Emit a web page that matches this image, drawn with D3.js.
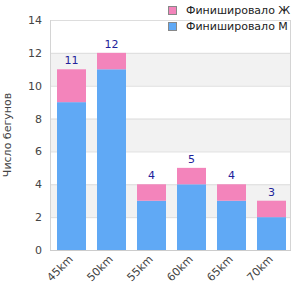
<!DOCTYPE html>
<html>
<head>
<meta charset="utf-8">
<script src="https://cdn.jsdelivr.net/npm/d3@7"></script>
<style>
  body { margin: 0; background: #fff; }
  text { font-family: "DejaVu Sans", sans-serif; }
</style>
</head>
<body>
<div id="chart"></div>
<script>
// Data
let categories = ['45km', '50km', '55km', '60km', '65km', '70km'];
let male = [9, 11, 3, 4, 3, 2];
let female = [2, 1, 1, 1, 1, 1];
let seriesNames = ['Финишировало Ж', 'Финишировало М'];
let yTicks = [0, 2, 4, 6, 8, 10, 12, 14];
let yTitle = 'Число бегунов';

let W = 300, H = 300;
let L = 50, R = 290, T = 20, B = 250; // plot box

let pink = '#f384bb';
let blue = '#60a9f5';

let svg = d3.select('#chart').append('svg')
		.attr('width', W)
		.attr('height', H);

let x = d3.scaleBand().domain(categories).range([L + 1.5, R + 1.5]).paddingInner(0.275).paddingOuter(0.1375);
let y = d3.scaleLinear().domain([0, 14]).range([B, T]);

// Alternating background bands
let bands = [[2, 4], [6, 8], [10, 12]];
svg.append('g').selectAll('rect')
		.data(bands)
		.enter()
		.append('rect')
		.attr('x', L)
		.attr('width', R - L)
		.attr('y', d => y(d[1]))
		.attr('height', d => y(d[0]) - y(d[1]))
		.attr('fill', '#f2f2f2');

// Grid lines
svg.append('g').selectAll('line')
		.data(yTicks)
		.enter()
		.append('line')
		.attr('x1', L)
		.attr('x2', R)
		.attr('y1', d => y(d) + 0.5)
		.attr('y2', d => y(d) + 0.5)
		.attr('stroke', '#dddddd');

// Side borders
svg.append('line').attr('x1', L + 0.5).attr('x2', L + 0.5).attr('y1', T).attr('y2', B + 1).attr('stroke', '#d4d4d4');
svg.append('line').attr('x1', R + 0.5).attr('x2', R + 0.5).attr('y1', T).attr('y2', B + 1).attr('stroke', '#d4d4d4');
svg.append('line').attr('x1', L).attr('x2', R + 1).attr('y1', B + 0.5).attr('y2', B + 0.5).attr('stroke', '#cccccc');

// Stacked bars
let rows = categories.map((c, i) => ({cat: c, m: male[i], f: female[i]}));
let bars = svg.append('g').selectAll('g')
		.data(rows)
		.enter()
		.append('g');

bars.append('rect')
		.attr('x', d => x(d.cat))
		.attr('width', x.bandwidth())
		.attr('y', d => y(d.m))
		.attr('height', d => y(0) - y(d.m))
		.attr('fill', blue);

bars.append('rect')
		.attr('x', d => x(d.cat))
		.attr('width', x.bandwidth())
		.attr('y', d => y(d.m + d.f))
		.attr('height', d => y(d.m) - y(d.m + d.f))
		.attr('fill', pink);

// Totals above bars
bars.append('text')
		.attr('x', d => x(d.cat) + x.bandwidth() / 2)
		.attr('y', d => y(d.m + d.f) - 5)
		.attr('text-anchor', 'middle')
		.attr('font-size', 11)
		.attr('fill', '#22229a')
		.text(d => d.m + d.f);

// Y axis labels
svg.append('g').selectAll('text')
		.data(yTicks)
		.enter()
		.append('text')
		.attr('x', 42)
		.attr('y', d => y(d) + 4)
		.attr('text-anchor', 'end')
		.attr('font-size', 11)
		.attr('fill', '#444')
		.text(d => d);

// X axis labels (rotated)
svg.append('g').selectAll('text')
		.data(categories)
		.enter()
		.append('text')
		.attr('transform', d => `translate(${x(d) + x.bandwidth() / 2 + 2}, 260) rotate(-45)`)
		.attr('text-anchor', 'end')
		.attr('font-size', 11)
		.attr('fill', '#444')
		.text(d => d);

// Y title
svg.append('text')
		.attr('transform', `translate(7, ${(T + B) / 2}) rotate(-90)`)
		.attr('text-anchor', 'middle')
		.attr('dy', '0.35em')
		.attr('font-size', 11)
		.attr('fill', '#444')
		.text(yTitle);

// Legend
let legend = svg.append('g').selectAll('g')
		.data(seriesNames)
		.enter()
		.append('g')
		.attr('transform', (d, i) => `translate(168, ${6 + i * 16})`);

legend.append('rect')
		.attr('x', 0.5)
		.attr('y', 0.5)
		.attr('width', 8)
		.attr('height', 8)
		.attr('fill', (d, i) => i === 0 ? pink : blue)
		.attr('stroke', '#888');

legend.append('text')
		.attr('x', 18)
		.attr('y', 8)
		.attr('font-size', 11)
		.attr('fill', '#222')
		.text(d => d);
</script>
</body>
</html>
